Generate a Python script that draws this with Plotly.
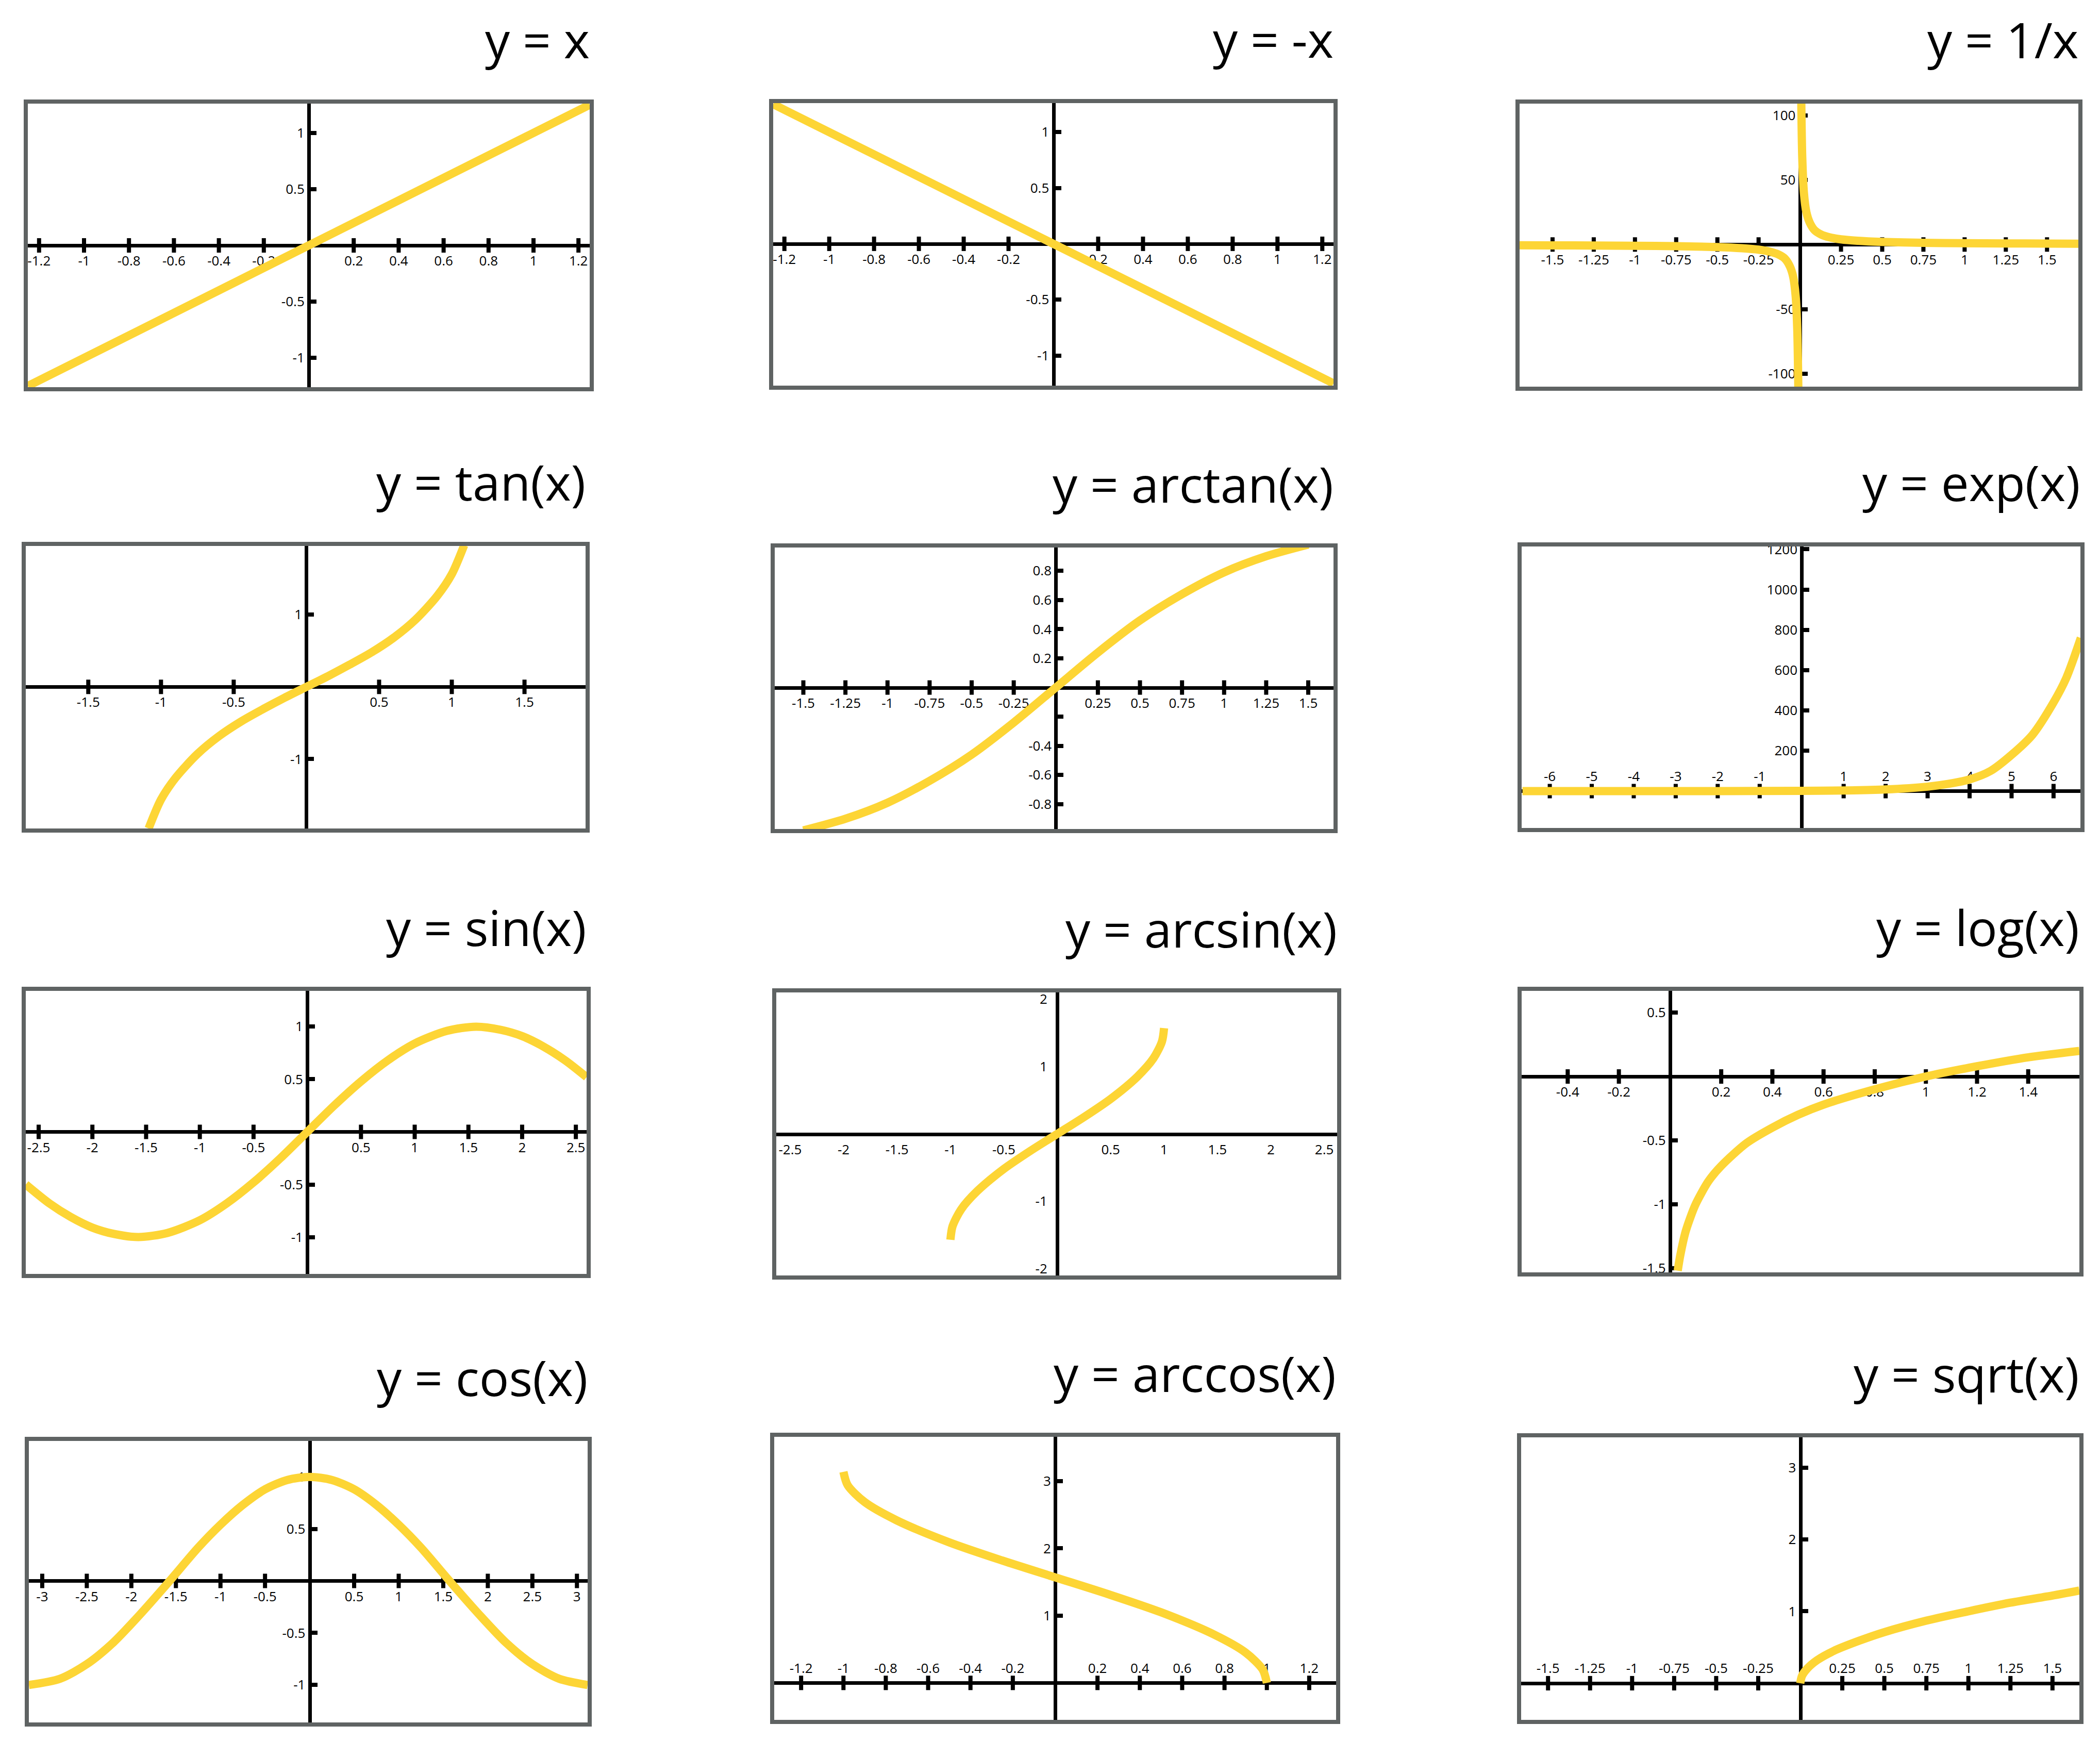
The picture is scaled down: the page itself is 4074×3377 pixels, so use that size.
import plotly.graph_objects as go

W, H = 4074, 3377
OFF = 8                      # default page margin around the plot div
FW, FH = W - OFF, H - OFF    # figure size that fits the window
YELLOW = "#FDD535"
GREY = "#5F6363"
BW = 8

# ---- data ----
lin_x = [-1.25, 1.25]
lin_y = [-1.25, 1.25]
neg_x = [-1.25, 1.25]
neg_y = [1.25, -1.25]

inv_x = [-1.7, -1.5, -1.25, -1.0, -0.75, -0.5, -0.35, -0.25, -0.18, -0.13, -0.09, -0.06, -0.04, -0.025, -0.015, -0.009,
         None,
         0.009, 0.015, 0.025, 0.04, 0.06, 0.09, 0.13, 0.18, 0.25, 0.35, 0.5, 0.75, 1.0, 1.25, 1.5, 1.7]
inv_y = [-0.6, -0.7, -0.8, -1.0, -1.3, -2.0, -2.9, -4.0, -5.6, -7.7, -11, -17, -25, -40, -67, -111,
         None,
         111, 67, 40, 25, 17, 11, 7.7, 5.6, 4.0, 2.9, 2.0, 1.3, 1.0, 0.8, 0.7, 0.6]

tan_x = [-1.085, -1.0, -0.9, -0.75, -0.6, -0.45, -0.3, -0.15, 0, 0.15, 0.3, 0.45, 0.6, 0.75, 0.9, 1.0, 1.085]
tan_y = [-1.96, -1.56, -1.26, -0.93, -0.68, -0.48, -0.31, -0.15, 0, 0.15, 0.31, 0.48, 0.68, 0.93, 1.26, 1.56, 1.96]

atan_x = [-1.5, -1.25, -1, -0.75, -0.5, -0.25, 0, 0.25, 0.5, 0.75, 1, 1.25, 1.5]
atan_y = [-0.98, -0.9, -0.79, -0.64, -0.46, -0.24, 0, 0.24, 0.46, 0.64, 0.79, 0.9, 0.98]

exp_x = [-6.65, -4, -2, 0, 1, 2, 3, 3.5, 4, 4.5, 5, 5.5, 6, 6.3, 6.65]
exp_y = [0, 0, 0, 1, 3, 8, 22, 36, 58, 100, 180, 280, 440, 560, 760]

sin_x = [-2.62, -2.4, -2.2, -2.0, -1.8, -1.57, -1.3, -1.0, -0.75, -0.5, -0.25, 0,
         0.25, 0.5, 0.75, 1.0, 1.3, 1.57, 1.8, 2.0, 2.2, 2.4, 2.6]
sin_y = [-0.5, -0.68, -0.81, -0.91, -0.97, -1.0, -0.96, -0.84, -0.68, -0.48, -0.25, 0,
         0.25, 0.48, 0.68, 0.84, 0.96, 1.0, 0.97, 0.91, 0.81, 0.68, 0.52]

asin_x = [-1, -0.98, -0.9, -0.75, -0.5, -0.25, 0, 0.25, 0.5, 0.75, 0.9, 0.98, 1]
asin_y = [-1.57, -1.37, -1.12, -0.85, -0.52, -0.25, 0, 0.25, 0.52, 0.85, 1.12, 1.37, 1.57]

log_x = [0.03, 0.04, 0.06, 0.08, 0.1, 0.15, 0.2, 0.3, 0.4, 0.5, 0.6, 0.8, 1, 1.2, 1.4, 1.6]
log_y = [-1.52, -1.4, -1.22, -1.1, -1.0, -0.82, -0.7, -0.52, -0.4, -0.3, -0.22, -0.1, 0, 0.08, 0.15, 0.2]

cos_x = [-3.15, -2.8, -2.5, -2.2, -1.9, -1.57, -1.25, -1.0, -0.75, -0.5, -0.25, 0,
         0.25, 0.5, 0.75, 1.0, 1.25, 1.57, 1.9, 2.2, 2.5, 2.8, 3.12]
cos_y = [-1.0, -0.94, -0.8, -0.59, -0.32, 0, 0.32, 0.54, 0.73, 0.88, 0.97, 1.0,
         0.97, 0.88, 0.73, 0.54, 0.32, 0, -0.32, -0.59, -0.8, -0.94, -1.0]

acos_x = [-1, -0.98, -0.9, -0.75, -0.5, -0.25, 0, 0.25, 0.5, 0.75, 0.9, 0.98, 1]
acos_y = [3.14, 2.94, 2.69, 2.42, 2.09, 1.82, 1.57, 1.32, 1.05, 0.72, 0.45, 0.2, 0]

sqrt_x = [0, 0.01, 0.04, 0.1, 0.2, 0.35, 0.5, 0.75, 1.0, 1.25, 1.5, 1.66]
sqrt_y = [0, 0.1, 0.2, 0.32, 0.45, 0.59, 0.71, 0.87, 1.0, 1.12, 1.22, 1.29]

# tick values
t_12 = [-1.2, -1, -0.8, -0.6, -0.4, -0.2, 0.2, 0.4, 0.6, 0.8, 1, 1.2]
t_15q = [-1.5, -1.25, -1, -0.75, -0.5, -0.25, 0.25, 0.5, 0.75, 1, 1.25, 1.5]
t_15h = [-1.5, -1, -0.5, 0.5, 1, 1.5]
t_25h = [-2.5, -2, -1.5, -1, -0.5, 0.5, 1, 1.5, 2, 2.5]
t_3h = [-3, -2.5, -2, -1.5, -1, -0.5, 0.5, 1, 1.5, 2, 2.5, 3]
t_6 = [-6, -5, -4, -3, -2, -1, 1, 2, 3, 4, 5, 6]
t_log = [-0.4, -0.2, 0.2, 0.4, 0.6, 0.8, 1, 1.2, 1.4]
y_1h = [-1, -0.5, 0.5, 1]
y_100 = [-100, -50, 50, 100]
y_1 = [-1, 1]
y_atan = [-0.8, -0.6, -0.4, -0.2, 0.2, 0.4, 0.6, 0.8]
y_exp = [200, 400, 600, 800, 1000, 1200]
y_2 = [-2, -1, 1, 2]
y_log = [-1.5, -1, -0.5, 0.5]
y_3 = [1, 2, 3]

# panel: title, box (l, t, r, b px in window), xrange, yrange, x, y, xticks, yticks, x-label side, tick marks
panels = [
    ("y = x", (46, 193, 1152, 759), [-1.25, 1.25], [-1.26, 1.26], lin_x, lin_y, t_12, y_1h, "bottom", True),
    ("y = -x", (1492, 192, 2595, 756), [-1.25, 1.25], [-1.27, 1.26], neg_x, neg_y, t_12, y_1h, "bottom", True),
    ("y = 1/x", (2940, 193, 4040, 758), [-1.7, 1.69], [-110, 109], inv_x, inv_y, t_15q, y_100, "bottom", True),
    ("y = tan(x)", (42, 1051, 1144, 1615), [-1.93, 1.92], [-1.96, 1.95], tan_x, tan_y, t_15h, y_1, "bottom", True),
    ("y = arctan(x)", (1495, 1054, 2595, 1616), [-1.67, 1.65], [-0.97, 0.96], atan_x, atan_y, t_15q, y_atan, "bottom", True),
    ("y = exp(x)", (2944, 1052, 4044, 1614), [-6.67, 6.64], [-183, 1214], exp_x, exp_y, t_6, y_exp, "top", True),
    ("y = sin(x)", (42, 1914, 1146, 2479), [-2.62, 2.6], [-1.35, 1.34], sin_x, sin_y, t_25h, y_1h, "bottom", True),
    ("y = arcsin(x)", (1498, 1917, 2602, 2482), [-2.63, 2.62], [-2.1, 2.1], asin_x, asin_y, t_25h, y_2, "bottom", False),
    ("y = log(x)", (2944, 1914, 4042, 2476), [-0.58, 1.6], [-1.533, 0.67], log_x, log_y, t_log, y_log, "bottom", True),
    ("y = cos(x)", (48, 2787, 1148, 3349), [-3.15, 3.12], [-1.36, 1.345], cos_x, cos_y, t_3h, y_1h, "bottom", True),
    ("y = arccos(x)", (1494, 2779, 2600, 3344), [-1.327, 1.327], [-0.55, 3.66], acos_x, acos_y, t_12, y_3, "top", True),
    ("y = sqrt(x)", (2943, 2780, 4042, 3344), [-1.66, 1.66], [-0.51, 3.42], sqrt_x, sqrt_y, t_15q, y_3, "top", True),
]

TICK_FONT = dict(family="Open Sans", size=26, color="black")
TITLE_FONT = dict(family="Open Sans", size=96, color="black")


def px(x):
    return (x - OFF) / FW


def py(y):
    return 1 - (y - OFF) / FH


fig = go.Figure()
shapes = []
annotations = []
layout = {}

for i, (title, box, xr, yr, xs, ys, xt, yt, side, marks) in enumerate(panels):
    n = i + 1
    xa = "x" if n == 1 else f"x{n}"
    ya = "y" if n == 1 else f"y{n}"
    xkey = "xaxis" if n == 1 else f"xaxis{n}"
    ykey = "yaxis" if n == 1 else f"yaxis{n}"
    l, t, r, b = box
    xd = [px(l + BW), px(r - BW)]
    yd = [py(b - BW), py(t + BW)]
    # paper position of the zero lines
    x0pos = xd[0] + (0 - xr[0]) / (xr[1] - xr[0]) * (xd[1] - xd[0])
    y0pos = yd[0] + (0 - yr[0]) / (yr[1] - yr[0]) * (yd[1] - yd[0])

    ytext = [f"{v:g}" for v in yt]
    if title == "y = arctan(x)":
        ytext = ["" if v == -0.2 else f"{v:g}" for v in yt]

    layout[xkey] = dict(domain=xd, range=xr, anchor="free", position=y0pos, side=side, automargin=False,
                        showgrid=False, zeroline=False, showline=True, linecolor="black", linewidth=7,
                        tickmode="array", tickvals=xt, ticktext=[f"{v:g}" for v in xt],
                        ticks="", ticklabelstandoff=4 if side == "bottom" else 6,
                        tickfont=TICK_FONT, layer="below traces", fixedrange=True)
    layout[ykey] = dict(domain=yd, range=yr, anchor="free", position=x0pos, side="left", automargin=False,
                        showgrid=False, zeroline=False, showline=True, linecolor="black", linewidth=7,
                        tickmode="array", tickvals=yt, ticktext=ytext,
                        ticks="inside" if marks else "outside", ticklen=11, tickwidth=8,
                        tickcolor="black" if marks else "rgba(0,0,0,0)",
                        tickfont=TICK_FONT, layer="below traces", fixedrange=True)

    if marks:
        fig.add_trace(go.Scatter(x=xt, y=[0] * len(xt), xaxis=xa, yaxis=ya, mode="markers",
                                 marker=dict(symbol="line-ns", size=20, color="black",
                                             line=dict(width=8, color="black")),
                                 hoverinfo="skip", showlegend=False))
    fig.add_trace(go.Scatter(x=xs, y=ys, xaxis=xa, yaxis=ya, mode="lines",
                             line=dict(color=YELLOW, width=16, shape="spline", smoothing=0.8),
                             connectgaps=False, hoverinfo="skip", showlegend=False))

    shapes.append(dict(type="rect", xref="paper", yref="paper",
                       x0=px(l + BW / 2), x1=px(r - BW / 2),
                       y0=py(b - BW / 2), y1=py(t + BW / 2),
                       line=dict(color=GREY, width=BW), fillcolor="rgba(0,0,0,0)"))
    annotations.append(dict(text=title, xref="paper", yref="paper", x=px(r - 6), y=py(t - 117),
                            xanchor="right", yanchor="middle", showarrow=False, font=TITLE_FONT))

fig.update_layout(width=FW, height=FH, margin=dict(l=0, r=0, t=0, b=0, pad=0),
                  paper_bgcolor="white", plot_bgcolor="white",
                  shapes=shapes, annotations=annotations, showlegend=False, **layout)

fig.write_html("out.html")
